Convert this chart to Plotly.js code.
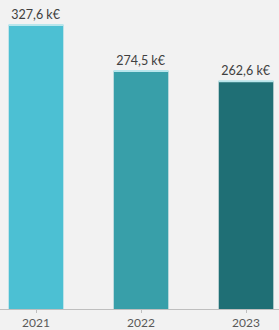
<!DOCTYPE html>
<html><head><meta charset="utf-8">
<script src="https://cdn.plot.ly/plotly-3.0.1.min.js"></script>
<style>html,body{margin:0;padding:0;background:#f2f2f2;}#chart{width:279px;height:330px;}</style>
</head><body><div id="chart"></div>
<script>
var years = ['2021', '2022', '2023'];
var values = [327.6, 274.5, 262.6];
var barColors = ['#4cc0d3', '#389fa9', '#1f6f75'];

var trace = {
  type: 'bar',
  x: years,
  y: values,
  width: 0.52,
  marker: {color: barColors},
  texttemplate: '%{y:.1f} k€',
  textposition: 'outside',
  textfont: {family: 'Lato, "Open Sans", sans-serif', size: 12.5, color: '#404040'},
  cliponaxis: false,
  error_y: {type: 'data', array: [0, 0, 0], visible: true, color: '#b8e6ec', thickness: 2, width: 27.5},
  hoverinfo: 'none'
};

var layout = {
  width: 279, height: 330,
  margin: {l: 0, r: 0, t: 0, b: 21},
  paper_bgcolor: '#f2f2f2',
  plot_bgcolor: '#f2f2f2',
  separators: ', ',
  showlegend: false,
  xaxis: {
    type: 'category',
    range: [-0.343, 2.314],
    showline: true, linecolor: '#bfbfbf', linewidth: 1,
    ticks: 'outside', ticklen: 3, tickcolor: '#bfbfbf',
    tickfont: {family: 'Lato, "Open Sans", sans-serif', size: 12, color: '#595959'},
    showgrid: false, zeroline: false, fixedrange: true
  },
  yaxis: {
    range: [0, 356.4],
    visible: false, showgrid: false, zeroline: false, fixedrange: true
  }
};

Plotly.newPlot('chart', [trace], layout, {displayModeBar: false, staticPlot: true});
</script></body></html>
